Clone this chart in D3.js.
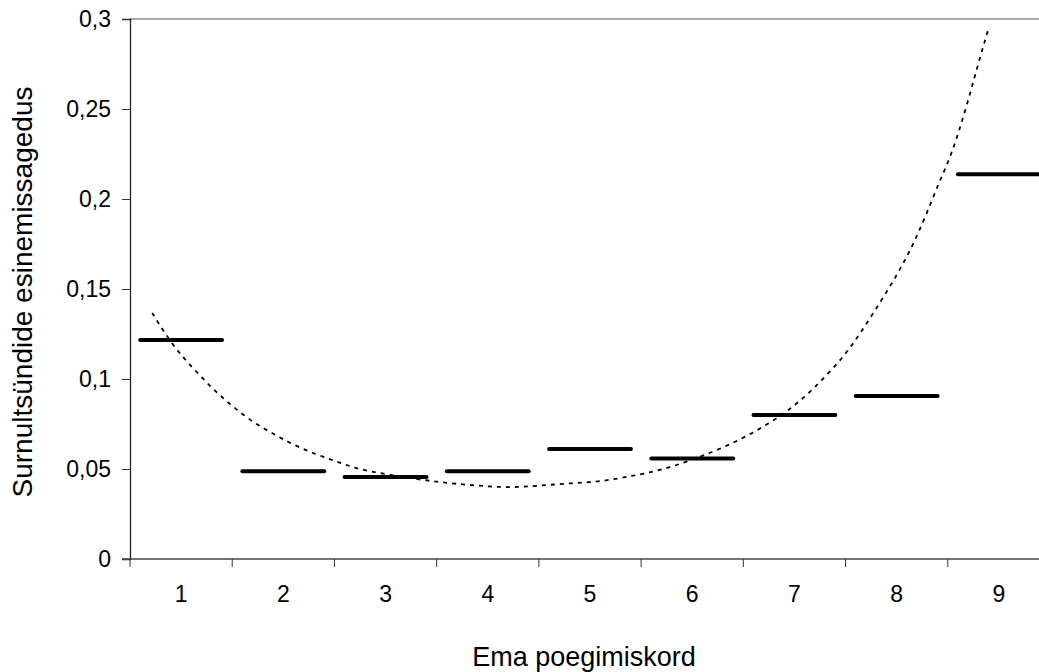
<!DOCTYPE html>
<html>
<head>
<meta charset="utf-8">
<script src="https://cdn.jsdelivr.net/npm/d3@7"></script>
<style>
  html, body { margin: 0; padding: 0; background: #fff; }
  svg { display: block; }
  text { font-family: "Liberation Sans", Arial, sans-serif; fill: #000; }
</style>
</head>
<body>
<svg id="chart" width="1039" height="672"></svg>
<script>
// Categories (Ema poegimiskord)
const categories = ["1", "2", "3", "4", "5", "6", "7", "8", "9"];
// Surnultsündide esinemissagedus per category
const values = [0.1217, 0.0487, 0.0456, 0.0487, 0.0611, 0.0559, 0.0800, 0.0906, 0.2137];
// Dotted trend line (x in category units, y value)
const trendX = [0.717, 0.912, 1.108, 1.303, 1.505, 1.710, 1.906, 2.101, 2.313, 2.509, 2.704, 2.916,
                3.307, 3.616, 3.910, 4.203, 4.496, 4.806, 5.099, 5.409, 5.702, 5.996, 6.289, 6.592,
                6.891, 7.087, 7.266, 7.478, 7.641, 7.836, 7.993, 8.136, 8.276, 8.416, 8.537, 8.684,
                8.830, 8.905];
const trendY = [0.1367, 0.1189, 0.1065, 0.0948, 0.0846, 0.0757, 0.0694, 0.0633, 0.0583, 0.0544, 0.0504, 0.0479,
                0.0443, 0.0421, 0.0407, 0.0396, 0.0407, 0.0421, 0.0429, 0.0461, 0.0494, 0.0550, 0.0615, 0.0698,
                0.0804, 0.0893, 0.0991, 0.1121, 0.1250, 0.1424, 0.1568, 0.1717, 0.1893, 0.2096, 0.2244, 0.2513,
                0.2818, 0.2957];
// Y tick values and labels
const yTicks = [0, 0.05, 0.1, 0.15, 0.2, 0.25, 0.3];
const yTickLabels = ["0", "0,05", "0,1", "0,15", "0,2", "0,25", "0,3"];
const xTitle = "Ema poegimiskord";
const yTitle = "Surnultsündide esinemissagedus";

(function () {
const svg = d3.select("#chart");
const pLeft = 130, pRight = 1050, pTop = 19, pBottom = 559;

const x = d3.scaleBand().domain(categories).range([pLeft, pRight]).paddingInner(0.16).paddingOuter(0.08);
const xStep = (pRight - pLeft) / categories.length;
const xc = d3.scaleLinear().domain([0.5, categories.length + 0.5]).range([pLeft, pRight]);
const y = d3.scaleLinear().domain([0, 0.3]).range([pBottom, pTop]);

// Plot border (top)
svg.append("line").attr("x1", pLeft).attr("x2", pRight).attr("y1", pTop).attr("y2", pTop)
  .attr("stroke", "#8c8c8c").attr("stroke-width", 1.5);

// Y axis
const yAxis = d3.axisLeft(y).tickValues(yTicks).tickSize(8).tickPadding(11)
  .tickFormat((d, i) => yTickLabels[i]);
const gy = svg.append("g").attr("transform", `translate(${pLeft},0)`).call(yAxis);
gy.select(".domain").attr("stroke", "#222").attr("stroke-width", 1.3);
gy.selectAll(".tick line").attr("stroke", "#333").attr("stroke-width", 1);
gy.selectAll(".tick text").style("font-family", "'Liberation Sans', Arial, sans-serif")
  .style("font-size", "23px").attr("fill", "#000");

// X axis with ticks at category boundaries
const boundaries = d3.range(categories.length + 1).map(i => pLeft + i * xStep);
const gx = svg.append("g");
gx.append("line").attr("x1", pLeft - 8).attr("x2", pRight).attr("y1", pBottom).attr("y2", pBottom)
  .attr("stroke", "#444").attr("stroke-width", 1.3);
gx.selectAll("line.tk").data(boundaries).join("line").attr("class", "tk")
  .attr("x1", d => d).attr("x2", d => d).attr("y1", pBottom).attr("y2", pBottom + 8)
  .attr("stroke", "#333").attr("stroke-width", 1);
gx.selectAll("text").data(categories).join("text")
  .attr("x", d => x(d) + x.bandwidth() / 2).attr("y", 602)
  .attr("text-anchor", "middle").style("font-size", "23px").text(d => d);

// Horizontal value marks
svg.append("g").selectAll("line").data(categories).join("line")
  .attr("x1", d => x(d) + 2).attr("x2", d => x(d) + x.bandwidth() - 2)
  .attr("y1", (d, i) => y(values[i])).attr("y2", (d, i) => y(values[i]))
  .attr("stroke", "#000").attr("stroke-width", 4).attr("stroke-linecap", "round");

// Dotted trend line
const trend = trendX.map((v, i) => [v, trendY[i]]);
svg.append("path").datum(trend)
  .attr("d", d3.line().x(d => xc(d[0])).y(d => y(d[1])).curve(d3.curveBasis))
  .attr("fill", "none").attr("stroke", "#000").attr("stroke-width", 1.8)
  .attr("stroke-dasharray", "4,5");

// Axis titles
svg.append("text").attr("x", 584).attr("y", 666).attr("text-anchor", "middle")
  .style("font-size", "27px").text(xTitle);
svg.append("text").attr("transform", "translate(32,292) rotate(-90)").attr("text-anchor", "middle")
  .style("font-size", "28px").text(yTitle);
})();
</script>
</body>
</html>
